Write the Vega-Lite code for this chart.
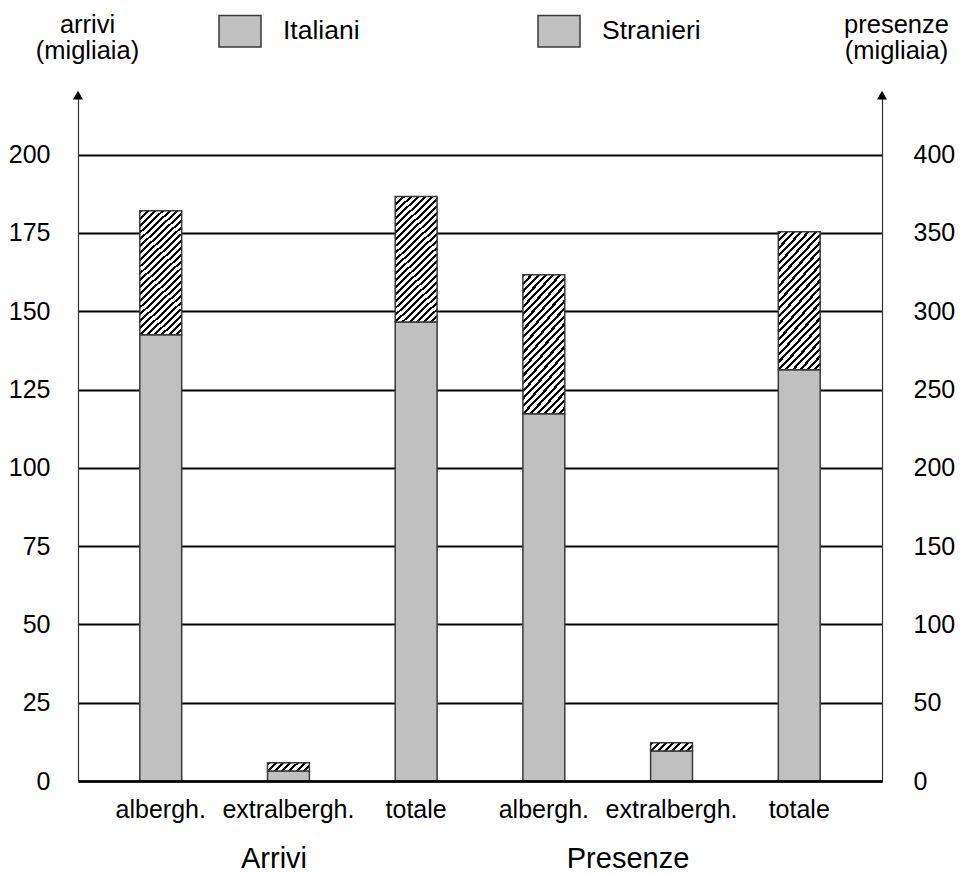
{
  "$schema": "https://vega.github.io/schema/vega-lite/v6.json",
  "width": 804,
  "height": 689,
  "autosize": "none",
  "padding": {"left": 78, "top": 92, "right": 80, "bottom": 93},
  "background": "white",
  "config": {
    "font": "Liberation Sans",
    "view": {"stroke": null},
    "axis": {"labelFont": "Liberation Sans", "titleFont": "Liberation Sans"}
  },
  "data": {
    "values": [
      {"misura": "Arrivi", "tipo": "albergh.", "naz": "Italiani", "valore": 142.5},
      {"misura": "Arrivi", "tipo": "albergh.", "naz": "Stranieri", "valore": 39.6},
      {"misura": "Arrivi", "tipo": "extralbergh.", "naz": "Italiani", "valore": 3.2},
      {"misura": "Arrivi", "tipo": "extralbergh.", "naz": "Stranieri", "valore": 2.6},
      {"misura": "Arrivi", "tipo": "totale", "naz": "Italiani", "valore": 146.6},
      {"misura": "Arrivi", "tipo": "totale", "naz": "Stranieri", "valore": 40.0},
      {"misura": "Presenze", "tipo": "albergh.", "naz": "Italiani", "valore": 234.5},
      {"misura": "Presenze", "tipo": "albergh.", "naz": "Stranieri", "valore": 88.8},
      {"misura": "Presenze", "tipo": "extralbergh.", "naz": "Italiani", "valore": 19.2},
      {"misura": "Presenze", "tipo": "extralbergh.", "naz": "Stranieri", "valore": 5.3},
      {"misura": "Presenze", "tipo": "totale", "naz": "Italiani", "valore": 262.6},
      {"misura": "Presenze", "tipo": "totale", "naz": "Stranieri", "valore": 88.2}
    ]
  },
  "transform": [{"calculate": "datum.misura + '|' + datum.tipo", "as": "cat"}],
  "resolve": {"scale": {"x": "independent", "y": "independent"}},
  "layer": [
    {
      "transform": [{"filter": "datum.misura === 'Arrivi'"}],
      "mark": {"type": "bar", "strokeWidth": 1.5},
      "encoding": {
        "x": {
          "field": "cat", "type": "nominal",
          "scale": {"domain": ["Arrivi|albergh.", "Arrivi|extralbergh.", "Arrivi|totale", "Presenze|albergh.", "Presenze|extralbergh.", "Presenze|totale"], "paddingInner": 0.672, "paddingOuter": 0.484},
          "axis": {"orient": "bottom", "title": null, "labelExpr": "split(datum.label, '|')[1]", "labelFontSize": 25, "labelColor": "#000", "labelPadding": 36, "labelBaseline": "alphabetic", "labelAngle": 0, "labelOverlap": false, "ticks": false, "tickSize": 0, "domainColor": "#000", "domainWidth": 2.5, "grid": false, "zindex": 1}
        },
        "y": {
          "field": "valore", "type": "quantitative", "stack": "zero",
          "scale": {"domain": [0, 220], "nice": false, "zero": true},
          "axis": {"orient": "left", "values": [0, 25, 50, 75, 100, 125, 150, 175, 200], "grid": true, "gridColor": "#000", "gridWidth": 2, "domainColor": "#333", "domainWidth": 1.2, "ticks": false, "tickSize": 0, "labelFontSize": 25, "labelColor": "#000", "labelPadding": 28, "title": ["arrivi", "(migliaia)"], "titleAngle": 0, "titleAlign": "center", "titleBaseline": "alphabetic", "titleX": 9, "titleY": -60, "titleFontSize": 25.5, "titleFontWeight": "normal", "titleColor": "#000", "titleLineHeight": 26, "zindex": 0}
        },
        "order": {"field": "naz", "type": "ordinal", "sort": "ascending"},
        "stroke": {
          "field": "naz", "type": "nominal",
          "scale": {"domain": ["Italiani", "Stranieri"], "range": ["#3a3a3a", "#3a3a3a"]},
          "legend": {
            "orient": "none", "legendX": 140, "legendY": -83, "direction": "horizontal", "title": null,
            "symbolType": "M-1,-0.75H1V0.75H-1Z", "symbolSize": 1764, "symbolStrokeWidth": 1.5, "symbolStrokeColor": "#3a3a3a",
            "labelFontSize": 26.5, "labelColor": "#000", "labelOffset": 21, "columnPadding": 175, "padding": 0
          }
        },
        "fill": {
          "condition": [
            {"test": "datum.naz === 'Stranieri' && datum.valore >= 10", "value": {"gradient": "linear", "x1": 0, "y1": 0, "x2": 0.3825, "y2": 1.197, "stops": [
              {"offset": 0, "color": "#000"}, {"offset": 0.0175, "color": "#000"}, {"offset": 0.0175, "color": "#fff"}, {"offset": 0.04167, "color": "#fff"},
              {"offset": 0.04167, "color": "#000"}, {"offset": 0.05917, "color": "#000"}, {"offset": 0.05917, "color": "#fff"}, {"offset": 0.08333, "color": "#fff"},
              {"offset": 0.08333, "color": "#000"}, {"offset": 0.10083, "color": "#000"}, {"offset": 0.10083, "color": "#fff"}, {"offset": 0.125, "color": "#fff"},
              {"offset": 0.125, "color": "#000"}, {"offset": 0.1425, "color": "#000"}, {"offset": 0.1425, "color": "#fff"}, {"offset": 0.16667, "color": "#fff"},
              {"offset": 0.16667, "color": "#000"}, {"offset": 0.18417, "color": "#000"}, {"offset": 0.18417, "color": "#fff"}, {"offset": 0.20833, "color": "#fff"},
              {"offset": 0.20833, "color": "#000"}, {"offset": 0.22583, "color": "#000"}, {"offset": 0.22583, "color": "#fff"}, {"offset": 0.25, "color": "#fff"},
              {"offset": 0.25, "color": "#000"}, {"offset": 0.2675, "color": "#000"}, {"offset": 0.2675, "color": "#fff"}, {"offset": 0.29167, "color": "#fff"},
              {"offset": 0.29167, "color": "#000"}, {"offset": 0.30917, "color": "#000"}, {"offset": 0.30917, "color": "#fff"}, {"offset": 0.33333, "color": "#fff"},
              {"offset": 0.33333, "color": "#000"}, {"offset": 0.35083, "color": "#000"}, {"offset": 0.35083, "color": "#fff"}, {"offset": 0.375, "color": "#fff"},
              {"offset": 0.375, "color": "#000"}, {"offset": 0.3925, "color": "#000"}, {"offset": 0.3925, "color": "#fff"}, {"offset": 0.41667, "color": "#fff"},
              {"offset": 0.41667, "color": "#000"}, {"offset": 0.43417, "color": "#000"}, {"offset": 0.43417, "color": "#fff"}, {"offset": 0.45833, "color": "#fff"},
              {"offset": 0.45833, "color": "#000"}, {"offset": 0.47583, "color": "#000"}, {"offset": 0.47583, "color": "#fff"}, {"offset": 0.5, "color": "#fff"},
              {"offset": 0.5, "color": "#000"}, {"offset": 0.5175, "color": "#000"}, {"offset": 0.5175, "color": "#fff"}, {"offset": 0.54167, "color": "#fff"},
              {"offset": 0.54167, "color": "#000"}, {"offset": 0.55917, "color": "#000"}, {"offset": 0.55917, "color": "#fff"}, {"offset": 0.58333, "color": "#fff"},
              {"offset": 0.58333, "color": "#000"}, {"offset": 0.60083, "color": "#000"}, {"offset": 0.60083, "color": "#fff"}, {"offset": 0.625, "color": "#fff"},
              {"offset": 0.625, "color": "#000"}, {"offset": 0.6425, "color": "#000"}, {"offset": 0.6425, "color": "#fff"}, {"offset": 0.66667, "color": "#fff"},
              {"offset": 0.66667, "color": "#000"}, {"offset": 0.68417, "color": "#000"}, {"offset": 0.68417, "color": "#fff"}, {"offset": 0.70833, "color": "#fff"},
              {"offset": 0.70833, "color": "#000"}, {"offset": 0.72583, "color": "#000"}, {"offset": 0.72583, "color": "#fff"}, {"offset": 0.75, "color": "#fff"},
              {"offset": 0.75, "color": "#000"}, {"offset": 0.7675, "color": "#000"}, {"offset": 0.7675, "color": "#fff"}, {"offset": 0.79167, "color": "#fff"},
              {"offset": 0.79167, "color": "#000"}, {"offset": 0.80917, "color": "#000"}, {"offset": 0.80917, "color": "#fff"}, {"offset": 0.83333, "color": "#fff"},
              {"offset": 0.83333, "color": "#000"}, {"offset": 0.85083, "color": "#000"}, {"offset": 0.85083, "color": "#fff"}, {"offset": 0.875, "color": "#fff"},
              {"offset": 0.875, "color": "#000"}, {"offset": 0.8925, "color": "#000"}, {"offset": 0.8925, "color": "#fff"}, {"offset": 0.91667, "color": "#fff"},
              {"offset": 0.91667, "color": "#000"}, {"offset": 0.93417, "color": "#000"}, {"offset": 0.93417, "color": "#fff"}, {"offset": 0.95833, "color": "#fff"},
              {"offset": 0.95833, "color": "#000"}, {"offset": 0.97583, "color": "#000"}, {"offset": 0.97583, "color": "#fff"}, {"offset": 1, "color": "#fff"}
            ]}},
            {"test": "datum.naz === 'Stranieri'", "value": {"gradient": "linear", "x1": 0, "y1": 0, "x2": 1.153, "y2": 0.228, "stops": [
              {"offset": 0, "color": "#000"}, {"offset": 0.06, "color": "#000"}, {"offset": 0.06, "color": "#fff"}, {"offset": 0.142857, "color": "#fff"},
              {"offset": 0.142857, "color": "#000"}, {"offset": 0.202857, "color": "#000"}, {"offset": 0.202857, "color": "#fff"}, {"offset": 0.285714, "color": "#fff"},
              {"offset": 0.285714, "color": "#000"}, {"offset": 0.345714, "color": "#000"}, {"offset": 0.345714, "color": "#fff"}, {"offset": 0.428571, "color": "#fff"},
              {"offset": 0.428571, "color": "#000"}, {"offset": 0.488571, "color": "#000"}, {"offset": 0.488571, "color": "#fff"}, {"offset": 0.571429, "color": "#fff"},
              {"offset": 0.571429, "color": "#000"}, {"offset": 0.631429, "color": "#000"}, {"offset": 0.631429, "color": "#fff"}, {"offset": 0.714286, "color": "#fff"},
              {"offset": 0.714286, "color": "#000"}, {"offset": 0.774286, "color": "#000"}, {"offset": 0.774286, "color": "#fff"}, {"offset": 0.857143, "color": "#fff"},
              {"offset": 0.857143, "color": "#000"}, {"offset": 0.917143, "color": "#000"}, {"offset": 0.917143, "color": "#fff"}, {"offset": 1, "color": "#fff"}
            ]}}
          ],
          "value": "#c0c0c0"
        }
      }
    },
    {
      "transform": [{"filter": "datum.misura === 'Presenze'"}],
      "mark": {"type": "bar", "strokeWidth": 1.5},
      "encoding": {
        "x": {
          "field": "cat", "type": "nominal",
          "scale": {"domain": ["Arrivi|albergh.", "Arrivi|extralbergh.", "Arrivi|totale", "Presenze|albergh.", "Presenze|extralbergh.", "Presenze|totale"], "paddingInner": 0.672, "paddingOuter": 0.484},
          "axis": null
        },
        "y": {
          "field": "valore", "type": "quantitative", "stack": "zero",
          "scale": {"domain": [0, 440], "nice": false, "zero": true},
          "axis": {"orient": "right", "values": [0, 50, 100, 150, 200, 250, 300, 350, 400], "grid": false, "domainColor": "#333", "domainWidth": 1.2, "ticks": false, "tickSize": 0, "labelFontSize": 25, "labelColor": "#000", "labelPadding": 31, "title": ["presenze", "(migliaia)"], "titleAngle": 0, "titleAlign": "center", "titleBaseline": "alphabetic", "titleX": 14, "titleY": -60, "titleFontSize": 25.5, "titleFontWeight": "normal", "titleColor": "#000", "titleLineHeight": 26}
        },
        "order": {"field": "naz", "type": "ordinal", "sort": "ascending"},
        "stroke": {
          "field": "naz", "type": "nominal",
          "scale": {"domain": ["Italiani", "Stranieri"], "range": ["#3a3a3a", "#3a3a3a"]},
          "legend": null
        },
        "fill": {
          "condition": [
            {"test": "datum.naz === 'Stranieri' && datum.valore >= 10", "value": {"gradient": "linear", "x1": 0, "y1": 0, "x2": 0.3825, "y2": 1.197, "stops": [
              {"offset": 0, "color": "#000"}, {"offset": 0.0175, "color": "#000"}, {"offset": 0.0175, "color": "#fff"}, {"offset": 0.04167, "color": "#fff"},
              {"offset": 0.04167, "color": "#000"}, {"offset": 0.05917, "color": "#000"}, {"offset": 0.05917, "color": "#fff"}, {"offset": 0.08333, "color": "#fff"},
              {"offset": 0.08333, "color": "#000"}, {"offset": 0.10083, "color": "#000"}, {"offset": 0.10083, "color": "#fff"}, {"offset": 0.125, "color": "#fff"},
              {"offset": 0.125, "color": "#000"}, {"offset": 0.1425, "color": "#000"}, {"offset": 0.1425, "color": "#fff"}, {"offset": 0.16667, "color": "#fff"},
              {"offset": 0.16667, "color": "#000"}, {"offset": 0.18417, "color": "#000"}, {"offset": 0.18417, "color": "#fff"}, {"offset": 0.20833, "color": "#fff"},
              {"offset": 0.20833, "color": "#000"}, {"offset": 0.22583, "color": "#000"}, {"offset": 0.22583, "color": "#fff"}, {"offset": 0.25, "color": "#fff"},
              {"offset": 0.25, "color": "#000"}, {"offset": 0.2675, "color": "#000"}, {"offset": 0.2675, "color": "#fff"}, {"offset": 0.29167, "color": "#fff"},
              {"offset": 0.29167, "color": "#000"}, {"offset": 0.30917, "color": "#000"}, {"offset": 0.30917, "color": "#fff"}, {"offset": 0.33333, "color": "#fff"},
              {"offset": 0.33333, "color": "#000"}, {"offset": 0.35083, "color": "#000"}, {"offset": 0.35083, "color": "#fff"}, {"offset": 0.375, "color": "#fff"},
              {"offset": 0.375, "color": "#000"}, {"offset": 0.3925, "color": "#000"}, {"offset": 0.3925, "color": "#fff"}, {"offset": 0.41667, "color": "#fff"},
              {"offset": 0.41667, "color": "#000"}, {"offset": 0.43417, "color": "#000"}, {"offset": 0.43417, "color": "#fff"}, {"offset": 0.45833, "color": "#fff"},
              {"offset": 0.45833, "color": "#000"}, {"offset": 0.47583, "color": "#000"}, {"offset": 0.47583, "color": "#fff"}, {"offset": 0.5, "color": "#fff"},
              {"offset": 0.5, "color": "#000"}, {"offset": 0.5175, "color": "#000"}, {"offset": 0.5175, "color": "#fff"}, {"offset": 0.54167, "color": "#fff"},
              {"offset": 0.54167, "color": "#000"}, {"offset": 0.55917, "color": "#000"}, {"offset": 0.55917, "color": "#fff"}, {"offset": 0.58333, "color": "#fff"},
              {"offset": 0.58333, "color": "#000"}, {"offset": 0.60083, "color": "#000"}, {"offset": 0.60083, "color": "#fff"}, {"offset": 0.625, "color": "#fff"},
              {"offset": 0.625, "color": "#000"}, {"offset": 0.6425, "color": "#000"}, {"offset": 0.6425, "color": "#fff"}, {"offset": 0.66667, "color": "#fff"},
              {"offset": 0.66667, "color": "#000"}, {"offset": 0.68417, "color": "#000"}, {"offset": 0.68417, "color": "#fff"}, {"offset": 0.70833, "color": "#fff"},
              {"offset": 0.70833, "color": "#000"}, {"offset": 0.72583, "color": "#000"}, {"offset": 0.72583, "color": "#fff"}, {"offset": 0.75, "color": "#fff"},
              {"offset": 0.75, "color": "#000"}, {"offset": 0.7675, "color": "#000"}, {"offset": 0.7675, "color": "#fff"}, {"offset": 0.79167, "color": "#fff"},
              {"offset": 0.79167, "color": "#000"}, {"offset": 0.80917, "color": "#000"}, {"offset": 0.80917, "color": "#fff"}, {"offset": 0.83333, "color": "#fff"},
              {"offset": 0.83333, "color": "#000"}, {"offset": 0.85083, "color": "#000"}, {"offset": 0.85083, "color": "#fff"}, {"offset": 0.875, "color": "#fff"},
              {"offset": 0.875, "color": "#000"}, {"offset": 0.8925, "color": "#000"}, {"offset": 0.8925, "color": "#fff"}, {"offset": 0.91667, "color": "#fff"},
              {"offset": 0.91667, "color": "#000"}, {"offset": 0.93417, "color": "#000"}, {"offset": 0.93417, "color": "#fff"}, {"offset": 0.95833, "color": "#fff"},
              {"offset": 0.95833, "color": "#000"}, {"offset": 0.97583, "color": "#000"}, {"offset": 0.97583, "color": "#fff"}, {"offset": 1, "color": "#fff"}
            ]}},
            {"test": "datum.naz === 'Stranieri'", "value": {"gradient": "linear", "x1": 0, "y1": 0, "x2": 1.153, "y2": 0.228, "stops": [
              {"offset": 0, "color": "#000"}, {"offset": 0.06, "color": "#000"}, {"offset": 0.06, "color": "#fff"}, {"offset": 0.142857, "color": "#fff"},
              {"offset": 0.142857, "color": "#000"}, {"offset": 0.202857, "color": "#000"}, {"offset": 0.202857, "color": "#fff"}, {"offset": 0.285714, "color": "#fff"},
              {"offset": 0.285714, "color": "#000"}, {"offset": 0.345714, "color": "#000"}, {"offset": 0.345714, "color": "#fff"}, {"offset": 0.428571, "color": "#fff"},
              {"offset": 0.428571, "color": "#000"}, {"offset": 0.488571, "color": "#000"}, {"offset": 0.488571, "color": "#fff"}, {"offset": 0.571429, "color": "#fff"},
              {"offset": 0.571429, "color": "#000"}, {"offset": 0.631429, "color": "#000"}, {"offset": 0.631429, "color": "#fff"}, {"offset": 0.714286, "color": "#fff"},
              {"offset": 0.714286, "color": "#000"}, {"offset": 0.774286, "color": "#000"}, {"offset": 0.774286, "color": "#fff"}, {"offset": 0.857143, "color": "#fff"},
              {"offset": 0.857143, "color": "#000"}, {"offset": 0.917143, "color": "#000"}, {"offset": 0.917143, "color": "#fff"}, {"offset": 1, "color": "#fff"}
            ]}}
          ],
          "value": "#c0c0c0"
        }
      }
    },
    {
      "data": {"values": [{"misura": "Arrivi"}, {"misura": "Presenze"}]},
      "transform": [{"filter": "datum.misura === 'Arrivi'"}, {"calculate": "datum.misura + '|extralbergh.'", "as": "cat"}],
      "mark": {"type": "text", "fontSize": 29, "baseline": "alphabetic", "align": "center", "color": "#000", "dx": -5},
      "encoding": {
        "x": {
          "field": "cat", "type": "nominal",
          "scale": {"domain": ["Arrivi|albergh.", "Arrivi|extralbergh.", "Arrivi|totale", "Presenze|albergh.", "Presenze|extralbergh.", "Presenze|totale"], "paddingInner": 0.672, "paddingOuter": 0.484},
          "axis": null
        },
        "y": {"datum": -27.8, "type": "quantitative", "scale": {"domain": [0, 220], "nice": false}, "axis": null},
        "text": {"field": "misura"}
      }
    },
    {
      "data": {"values": [{"misura": "Arrivi"}, {"misura": "Presenze"}]},
      "transform": [{"filter": "datum.misura === 'Presenze'"}, {"calculate": "datum.misura + '|extralbergh.'", "as": "cat"}],
      "mark": {"type": "text", "fontSize": 29, "baseline": "alphabetic", "align": "center", "color": "#000", "dx": -53},
      "encoding": {
        "x": {
          "field": "cat", "type": "nominal",
          "scale": {"domain": ["Arrivi|albergh.", "Arrivi|extralbergh.", "Arrivi|totale", "Presenze|albergh.", "Presenze|extralbergh.", "Presenze|totale"], "paddingInner": 0.672, "paddingOuter": 0.484},
          "axis": null
        },
        "y": {"datum": -27.8, "type": "quantitative", "scale": {"domain": [0, 220], "nice": false}, "axis": null},
        "text": {"field": "misura"}
      }
    },
    {
      "data": {"values": [{"lato": 0}, {"lato": 1}]},
      "mark": {"type": "point", "shape": "triangle-up", "filled": true, "color": "#000", "size": 100, "opacity": 1, "strokeWidth": 0},
      "encoding": {
        "x": {"field": "lato", "type": "quantitative", "scale": {"domain": [0, 1], "nice": false}, "axis": null},
        "y": {"datum": 219, "type": "quantitative", "scale": {"domain": [0, 220], "nice": false}, "axis": null}
      }
    }
  ]
}
